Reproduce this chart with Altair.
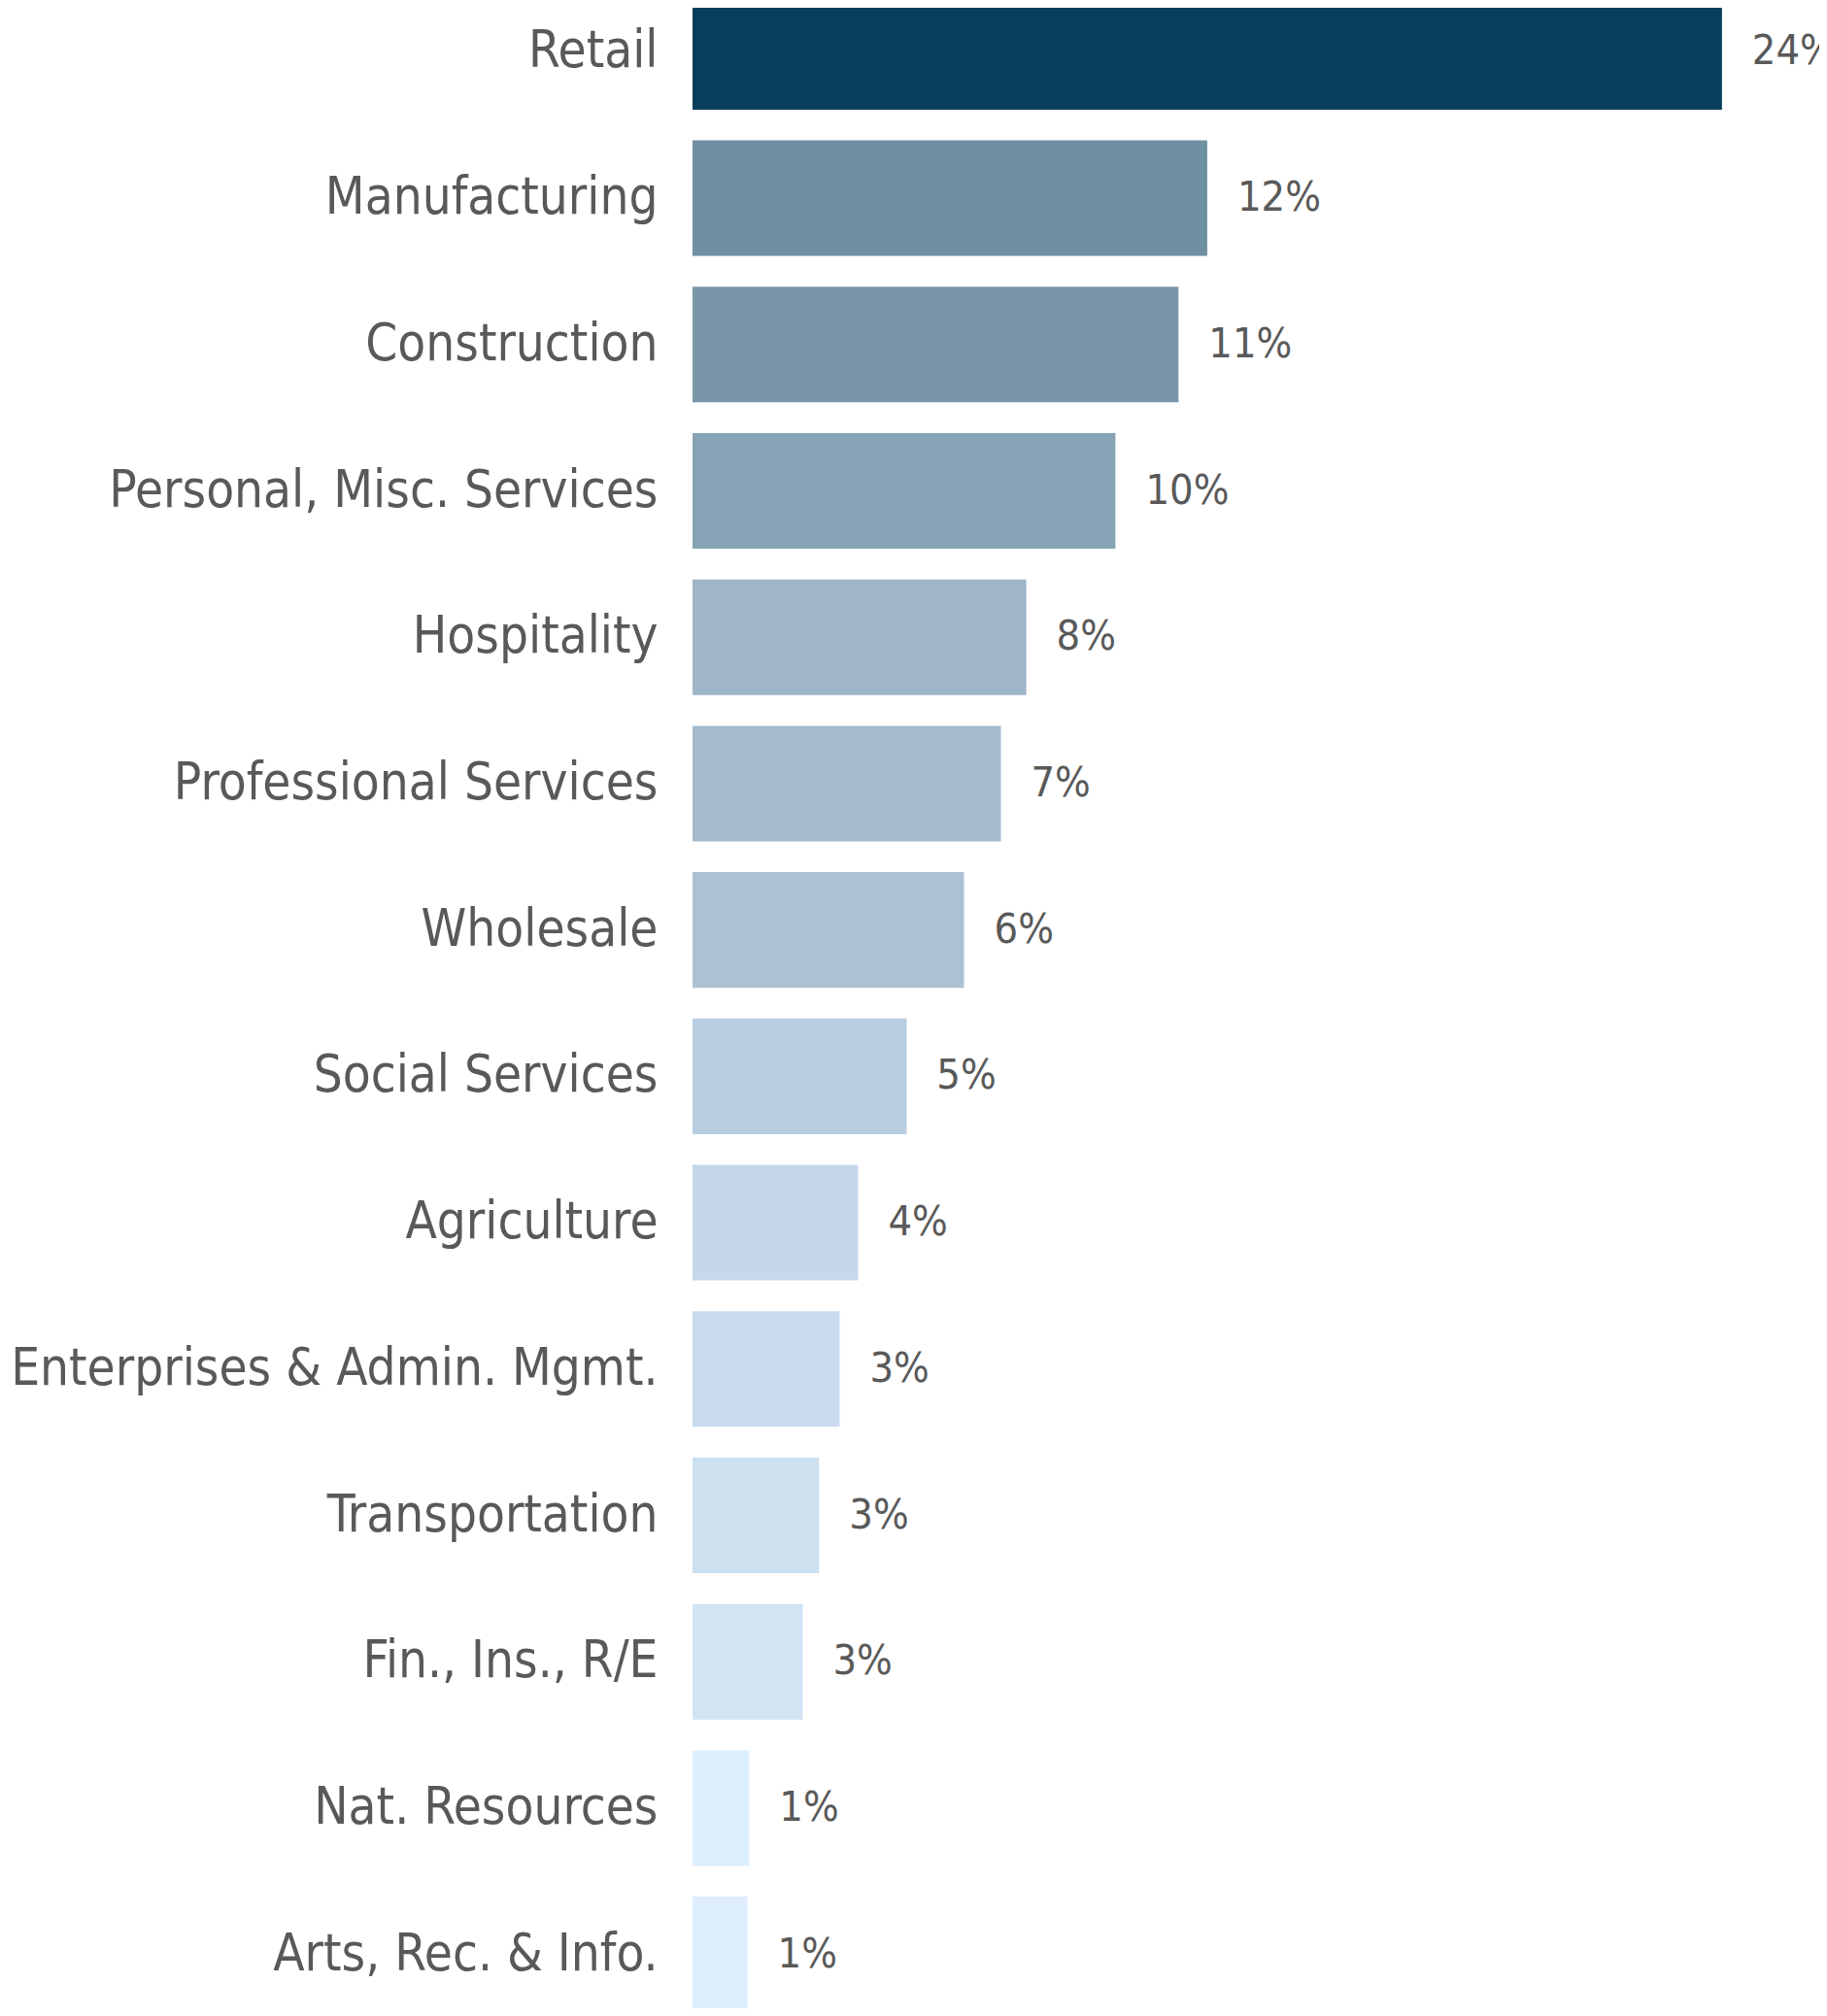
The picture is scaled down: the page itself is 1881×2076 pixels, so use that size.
import altair as alt
import pandas as pd

industries = [
    "Retail", "Manufacturing", "Construction", "Personal, Misc. Services",
    "Hospitality", "Professional Services", "Wholesale", "Social Services",
    "Agriculture", "Enterprises & Admin. Mgmt.", "Transportation",
    "Fin., Ins., R/E", "Nat. Resources", "Arts, Rec. & Info.",
]
shares = [24.0, 12.0, 11.33, 9.86, 7.78, 7.19, 6.33, 4.99, 3.86, 3.43, 2.95, 2.57, 1.32, 1.28]

palette = [
    "#083d5c", "#6f90a2", "#7896a8", "#87a4b6", "#9fb5c8", "#a5bbcd", "#acc2d4",
    "#b8cde0", "#c5d8ea", "#c9dbed", "#cce0f0", "#d2e4f3", "#ddeefc", "#ddedfc",
]

FONT = "DejaVu Sans Condensed"
GREY = "#595959"

df = pd.DataFrame({"industry": industries, "share": shares})

base = alt.Chart(df).encode(
    y=alt.Y(
        "industry:N",
        sort=None,
        scale=alt.Scale(paddingInner=0.21, paddingOuter=0.105),
        axis=alt.Axis(
            title=None, domain=False, ticks=False, grid=False,
            labelFontSize=52.6, labelFont=FONT, labelColor=GREY,
            labelPadding=36, labelLimit=0,
        ),
    )
)

bars = base.mark_bar().encode(
    x=alt.X("share:Q", scale=alt.Scale(domain=[0, 25], nice=False, zero=True), axis=None),
    color=alt.Color("industry:N", sort=None,
                    scale=alt.Scale(domain=industries, range=palette), legend=None),
)

text = base.transform_calculate(
    label="format(datum.share, '.0f') + '%'"
).mark_text(
    align="left", baseline="middle", dx=31, font=FONT, fontSize=43, color=GREY
).encode(
    x=alt.X("share:Q"),
    text="label:N",
)

chart = alt.layer(bars, text).properties(
    width=1104,
    height=2110,
    autosize=alt.AutoSizeParams(type="none"),
    padding={"left": 705, "top": -30, "right": 56, "bottom": -20},
).configure_view(stroke=None)

chart.save("out.html", embed_options={"renderer": "svg", "actions": False})
